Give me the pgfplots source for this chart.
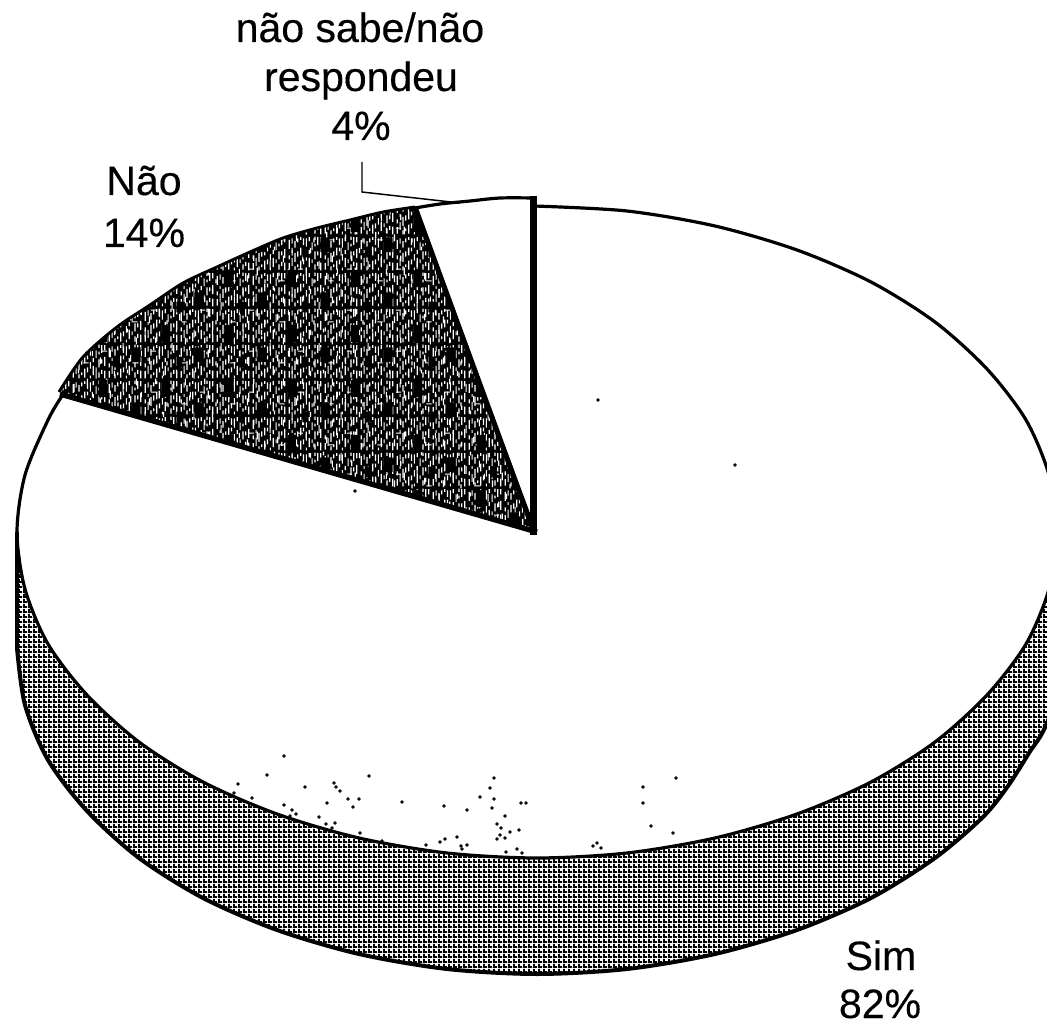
\documentclass[border=0pt]{standalone}
\usepackage{fontspec}
\setmainfont{Liberation Sans}
\newfontfamily\lblfont{Liberation Sans}[FakeBold=0.35]
\usepackage{pgfplots}
\pgfplotsset{compat=1.18}
\usetikzlibrary{patterns}
% side wall: regular fine black grid with small white cells
\pgfdeclarepatternformonly{sidegrid}{\pgfqpoint{0pt}{0pt}}{\pgfqpoint{3.375pt}{3.375pt}}{\pgfqpoint{3.375pt}{3.375pt}}{%
  \pgfpathrectangle{\pgfqpoint{0pt}{0pt}}{\pgfqpoint{3.375pt}{1.5pt}}%
  \pgfpathrectangle{\pgfqpoint{0pt}{0pt}}{\pgfqpoint{1.5pt}{3.375pt}}%
  \pgfusepath{fill}}
% dark wedge: irregular white vertical flecks, laid over solid black
\def\fl#1#2#3{\pgfpathrectangle{\pgfqpoint{#1pt}{#2pt}}{\pgfqpoint{0.9pt}{#3pt}}}
\pgfdeclarepatternformonly{flecks}{\pgfqpoint{0pt}{0pt}}{\pgfqpoint{27pt}{27pt}}{\pgfqpoint{27pt}{27pt}}{%
  \fl{0.5}{1}{5}\fl{0.5}{9}{3}\fl{0.5}{17}{7}%
  \fl{2.7}{4}{6}\fl{2.7}{14}{2}\fl{2.7}{21}{4}%
  \fl{4.9}{0.5}{3}\fl{4.9}{7}{7}\fl{4.9}{18}{5}%
  \fl{7.1}{3}{2}\fl{7.1}{11}{4}\fl{7.1}{22}{3}%
  \fl{9.3}{1}{7}\fl{9.3}{12}{6}\fl{9.3}{24}{2}%
  \fl{11.5}{5}{4}\fl{11.5}{15}{3}\fl{11.5}{20}{5}%
  \fl{13.7}{0.5}{2}\fl{13.7}{8}{5}\fl{13.7}{18}{7}%
  \fl{15.9}{3}{7}\fl{15.9}{13}{3}\fl{15.9}{23}{3}%
  \fl{18.1}{6}{3}\fl{18.1}{16}{6}%
  \fl{20.3}{1}{4}\fl{20.3}{9}{6}\fl{20.3}{19}{2}\fl{20.3}{24}{2.5}%
  \fl{22.5}{4}{3}\fl{22.5}{12}{3}\fl{22.5}{20}{6}%
  \fl{24.7}{0.5}{6}\fl{24.7}{10}{7}\fl{24.7}{22}{4}%
  \pgfusepath{fill}}
% second layer on an unrelated period, breaks the visible tile lattice
\pgfdeclarepatternformonly{flecksb}{\pgfqpoint{0pt}{0pt}}{\pgfqpoint{37pt}{31pt}}{\pgfqpoint{37pt}{31pt}}{%
  \fl{1.4}{3}{5}\fl{6.2}{19}{4}\fl{8.9}{8}{6}\fl{12.1}{25}{4}\fl{14.8}{2}{3}%
  \fl{18.6}{13}{6}\fl{22.0}{27}{3}\fl{24.4}{5}{5}\fl{28.7}{18}{5}\fl{32.5}{9}{4}\fl{35.3}{23}{6}%
  \pgfpathrectangle{\pgfqpoint{3pt}{12.5pt}}{\pgfqpoint{4pt}{0.8pt}}%
  \pgfpathrectangle{\pgfqpoint{26pt}{3.5pt}}{\pgfqpoint{4pt}{0.8pt}}%
  \pgfusepath{fill}}
% black blotches on a third period
\pgfdeclarepatternformonly{blotches}{\pgfqpoint{0pt}{0pt}}{\pgfqpoint{47pt}{41pt}}{\pgfqpoint{47pt}{41pt}}{%
  \pgfpathrectangle{\pgfqpoint{4pt}{6pt}}{\pgfqpoint{7pt}{11pt}}%
  \pgfpathrectangle{\pgfqpoint{27pt}{21pt}}{\pgfqpoint{6pt}{13pt}}%
  \pgfpathrectangle{\pgfqpoint{38pt}{2pt}}{\pgfqpoint{4pt}{8pt}}%
  \pgfusepath{fill}}
\newcommand{\lbl}[3]{\node[anchor=base,inner sep=0pt,text=black] at (axis cs:#1,#2) {\lblfont\fontsize{30.75}{36}\selectfont #3};}
\begin{document}
\begin{tikzpicture}
\path[use as bounding box] (0,0) rectangle (785.25pt,770.25pt);
\begin{axis}[
  at={(0,0)}, anchor=south west,
  width=785.25pt, height=770.25pt, scale only axis,
  xmin=0, xmax=1047, ymin=0, ymax=1027, y dir=reverse,
  hide axis, clip=true]
% side wall
\addplot[draw=none, pattern=sidegrid, pattern color=black] coordinates {
 (17,532) (25,589) (48,644) (87,695) (139,742) (203,782) (277,814) (359,838) (447,853) (537,858)
 (627,853) (715,838) (797,814) (871,782) (935,742) (987,695) (1026,644) (1049,589) (1057,532)
 (1075,640) (1047,723) (1029,753) (1008,786) (983,817) (935,858) (871,898) (797,930) (715,954) (627,969) (537,974)
 (447,969) (359,954) (277,930) (203,898) (139,858) (87,811) (48,760) (25,705) (17,648) (17,532)};
% Sim, white wedge
\addplot[draw=none, fill=white] coordinates {
 (537,532) (534,206) (537,206) (627,211) (715,226) (797,250) (871,282) (935,322) (987,369) (1026,420) (1049,475) (1057,532)
 (1049,589) (1026,644) (987,695) (935,742) (871,782) (797,814) (715,838) (627,853) (537,858)
 (447,853) (359,838) (277,814) (203,782) (139,742) (87,695) (48,644) (25,589) (17,532) (25,475) (48,420) (65,396) (537,532)};
% outer arc of the side wall
\addplot[black, line width=3pt, smooth] coordinates {
 (17,648) (25,705) (48,760) (87,811) (139,858) (203,898) (277,930) (359,954) (447,969) (537,974)
 (627,969) (715,954) (797,930) (871,898) (935,858) (983,817) (1008,786) (1029,753) (1047,723) (1075,640)};
\addplot[black, line width=2.4pt] coordinates {(17,532) (17,648)};
% rim of the Sim wedge
\addplot[black, line width=2.4pt, smooth] coordinates {
 (534,206) (627,211) (715,226) (797,250) (871,282) (935,322) (987,369) (1026,420) (1049,475) (1057,532)
 (1049,589) (1026,644) (987,695) (935,742) (871,782) (797,814) (715,838) (627,853) (537,858)
 (447,853) (359,838) (277,814) (203,782) (139,742) (87,695) (48,644) (25,589) (17,532) (25,475) (48,420) (62,396)};
% Não wedge
\addplot[draw=none, fill=black] coordinates {
 (537,532) (60,392) (83,357) (117,327) (150,305) (183,283) (217,267) (250,252) (283,238) (317,228) (350,220) (383,212) (415,207) (537,532)};
\addplot[draw=none, pattern=flecks, pattern color=white] coordinates {
 (537,532) (60,392) (83,357) (117,327) (150,305) (183,283) (217,267) (250,252) (283,238) (317,228) (350,220) (383,212) (415,207) (537,532)};
\addplot[draw=none, pattern=flecksb, pattern color=white] coordinates {
 (537,532) (60,392) (83,357) (117,327) (150,305) (183,283) (217,267) (250,252) (283,238) (317,228) (350,220) (383,212) (415,207) (537,532)};
\addplot[draw=none, pattern=blotches, pattern color=black] coordinates {
 (537,532) (60,392) (83,357) (117,327) (150,305) (183,283) (217,267) (250,252) (283,238) (317,228) (350,220) (383,212) (415,207) (537,532)};
\addplot[black, line width=2.2pt, smooth] coordinates {
 (59,392) (83,357) (117,327) (150,305) (183,283) (217,267) (250,252) (283,238) (317,228) (350,220) (383,212) (415,207)};
\addplot[black, line width=4pt] coordinates {(60,394) (537,532)};
\addplot[black, line width=3.8pt] coordinates {(415,207) (534,532)};
% não sabe wedge rim
\addplot[black, line width=2.4pt, smooth] coordinates {(415,208) (440,204) (470,201) (500,198) (534,198)};
\addplot[black, line width=5pt] coordinates {(533.5,196) (533.5,535)};
% leader
\addplot[black, line width=1.1pt] coordinates {(362,162) (362,192) (460,203)};
% scan specks
\addplot[only marks, mark=*, mark size=1.1pt, black] coordinates {
 (284,756) (267,775) (238,784) (234,793) (252,798) (305,787) (334,783) (336,787) (340,791) (369,776)
 (348,799) (359,799) (353,807) (327,803) (284,805) (292,810) (296,814) (290,816) (319,817) (326,824)
 (335,823) (332,828) (360,833) (382,841) (402,802) (444,806) (467,810) (457,837) (445,839) (426,845)
 (440,842) (461,846) (467,845) (462,849) (494,778) (490,788) (480,797) (494,799) (492,808) (505,816)
 (521,803) (526,803) (497,824) (501,828) (510,832) (519,830) (500,835) (505,838) (497,839) (506,852)
 (517,849) (522,853) (597,843) (601,848) (593,846) (643,787) (643,803) (676,778) (651,826) (673,833)
 (355,491) (375,475) (598,400) (735,465)};
% labels
\lbl{360}{42}{não sabe/não}
\lbl{361}{91}{respondeu}
\lbl{361}{140}{4\%}
\lbl{144}{195}{Não}
\lbl{144}{247}{14\%}
\lbl{881}{970}{Sim}
\lbl{880}{1018}{82\%}
\end{axis}
\end{tikzpicture}
\end{document}
